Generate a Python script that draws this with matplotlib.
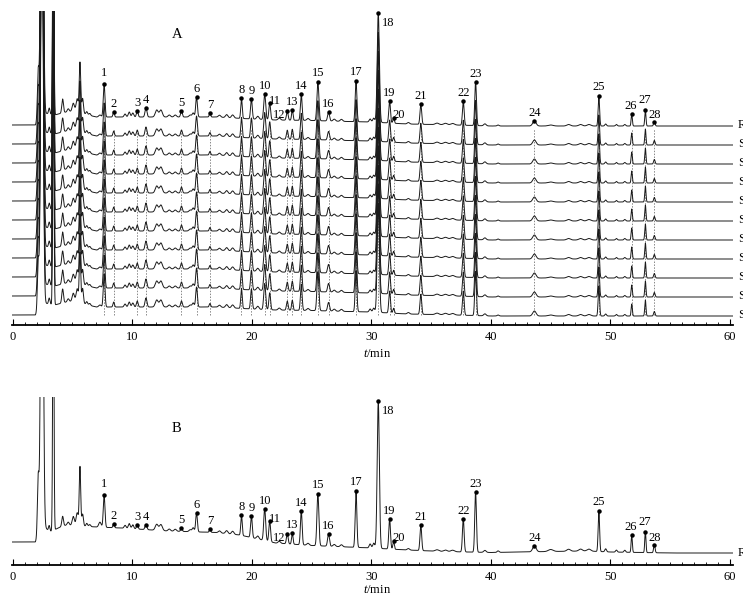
import numpy as np
import matplotlib
matplotlib.use('Agg')
import matplotlib.pyplot as plt

plt.rcParams['font.family'] = ['Liberation Serif', 'DejaVu Serif']
plt.rcParams['mathtext.fontset'] = 'custom'
plt.rcParams['mathtext.it'] = 'Liberation Serif:italic'
plt.rcParams['mathtext.rm'] = 'Liberation Serif'

# ---------------- data ----------------
PEAK_NO = [1, 2, 3, 4, 5, 6, 7, 8, 9, 10, 11, 12, 13, 14,
           15, 16, 17, 18, 19, 20, 21, 22, 23, 24, 25, 26, 27, 28]
PEAK_RT = [7.65, 8.45, 10.42, 11.15, 14.12, 15.38, 16.50, 19.14, 19.97, 21.08,
           21.50, 22.97, 23.39, 24.14, 25.53, 26.42, 28.72, 30.58, 31.53, 31.86,
           34.14, 37.69, 38.72, 43.64, 49.03, 51.78, 52.92, 53.67]
PEAK_WIDTH = [0.07, 0.06, 0.07, 0.08, 0.07, 0.07, 0.06, 0.06, 0.07, 0.08,
              0.07, 0.07, 0.06, 0.07, 0.08, 0.08, 0.07, 0.09, 0.07, 0.06,
              0.07, 0.07, 0.07, 0.14, 0.06, 0.05, 0.05, 0.06]
A_HEIGHT = [33, 5, 6, 9, 6, 20, 3.5, 20, 20, 26, 17, 9, 10, 26, 39, 8.5, 41, 109,
            22, 5, 20, 24, 44, 5, 30, 12, 16, 4.5]
B_HEIGHT = [32, 4, 4, 5, 3, 19, 3, 20, 22, 32, 21, 10, 11, 34, 52, 12, 56, 147,
            30, 8, 26, 33, 60, 6, 41, 17, 21, 8]

EARLY_RT = [2.14, 2.45, 3.06, 3.40, 4.18, 4.65, 5.07, 5.40, 5.63, 5.85]
EARLY_WIDTH = [0.07, 0.10, 0.06, 0.05, 0.07, 0.08, 0.09, 0.09, 0.06, 0.07]
A_EARLY_H = [50, 450, 6, 300, 14, 3, 8, 13, 50, 15]
B_EARLY_H = [60, 500, 6, 300, 10, 3, 9, 13, 59, 12]

MINOR_RT = [6.20, 6.45, 7.30, 9.40, 9.75, 10.05, 12.05, 12.40, 13.10, 13.60,
            14.85, 15.10, 17.30, 17.90, 18.40, 20.50, 22.30, 24.70, 26.90, 27.50,
            29.90, 30.20, 33.10, 35.50, 36.20, 36.80, 39.50, 40.60, 45.00, 46.50,
            47.50, 48.20, 49.60, 50.50, 51.20]
MINOR_WIDTH = [0.07, 0.07, 0.10, 0.08, 0.08, 0.08, 0.12, 0.12, 0.10, 0.10,
               0.10, 0.08, 0.10, 0.10, 0.10, 0.10, 0.10, 0.10, 0.10, 0.10,
               0.08, 0.08, 0.10, 0.15, 0.15, 0.15, 0.10, 0.08, 0.20, 0.15,
               0.15, 0.15, 0.07, 0.07, 0.07]
A_MINOR_H = [3, 2, 2, 3, 5, 4, 7, 7, 2, 2, 2, 4, 2, 3, 3, 3, 2, 2, 2, 2,
             3, 4, 1.5, 1.5, 1.5, 1.5, 2, 1, 1, 1.5, 1.5, 1.5, 2, 1.5, 1.5]
B_MINOR_H = [3, 2, 5, 3, 5, 4, 6, 6, 2, 2, 2, 4, 2, 3, 3, 3, 2, 2, 2, 2,
             4, 5, 1.5, 1.5, 1.5, 1.5, 2, 1.5, 2, 2, 2, 2, 3, 2, 2]

A_DRIFT_T = [0, 1.9, 2.6, 3.5, 4.5, 5.2, 6.3, 7.0, 8.0, 13.0, 17.0, 20.0, 22.0,
             25.0, 28.0, 30.0, 33.0, 37.0, 40.0, 60.3]
A_DRIFT = [0, 0, 12, 10, 13, 14, 10, 8, 8, 8, 8, 6, 5, 4.5, 3.5, 3, 1, 0, -1, -1]
B_DRIFT_T = [0, 1.9, 2.6, 3.1, 4.0, 4.5, 7.0, 9.0, 13.0, 17.0, 19.0, 20.5, 22.0,
             25.0, 28.0, 30.0, 33.0, 36.0, 40.0, 45.0, 48.0, 50.0, 55.0, 60.3]
B_DRIFT = [0, 0, 16, 10, 15, 17, 15, 14, 11, 9.5, 7, 3, -1, -3.5, -5, -6, -8,
           -9.5, -10.5, -9.5, -9, -10, -11, -11]

SAMPLES_A = ['R', 'S1', 'S2', 'S3', 'S4', 'S5', 'S6', 'S7', 'S8', 'S9', 'S10']
S_FACTOR = [1.00, 1.00, 1.00, 1.00, 1.00, 1.00, 1.00, 1.00, 1.00, 1.00, 1.00]
X_TICKS = [0, 10, 20, 30, 40, 50, 60]

# label offsets in pixels (dx, dy) relative to the apex
LABEL_OFF = {1: (0, 12), 11: (5, 3), 12: (-8, -3), 18: (10, -9), 20: (5, 4),
             15: (0, 10), 17: (0, 10), 23: (0, 9), 25: (0, 10), 26: (-1, 9),
             27: (-1, 11), 28: (0, 8)}

# ---------------- helpers ----------------
T = np.arange(-0.08, 60.25, 0.004)


def peaks(rts, hs, ws, scale=1.0):
    y = np.zeros_like(T)
    for r, h, w in zip(rts, hs, ws):
        y += scale * h * np.exp(-0.5 * ((T - r) / w) ** 2)
    return y


def profile(drift_t, drift, main_h, early_h, minor_h, scale=1.0):
    y = np.interp(T, drift_t, drift)
    y += peaks(PEAK_RT, main_h, PEAK_WIDTH, scale)
    y += peaks(EARLY_RT, early_h, EARLY_WIDTH)
    y += peaks(MINOR_RT, minor_h, MINOR_WIDTH)
    return y


def apex(y):
    out = []
    for r in PEAK_RT:
        m = (T > r - 0.06) & (T < r + 0.06)
        i = np.argmax(np.where(m, y, -1e9))
        out.append((T[i], y[i]))
    return out


def style_axis(ax, ymax):
    ax.set_xlim(-0.08, 60.25)
    ax.set_ylim(0, ymax)
    for s in ('left', 'right', 'top'):
        ax.spines[s].set_visible(False)
    ax.spines['bottom'].set_linewidth(1.3)
    ax.set_yticks([])
    ax.set_xticks(X_TICKS)
    ax.set_xticks(np.arange(0, 61, 1), minor=True)
    ax.tick_params(axis='x', which='major', direction='in', length=4, width=0.8,
                   labelsize=9, pad=4)
    ax.tick_params(axis='x', which='minor', direction='in', length=2.5, width=0.6)
    ax.patch.set_alpha(0)


def label_peaks(ax, pts):
    for n, (x, y) in zip(PEAK_NO, pts):
        ax.plot([x], [y], marker='o', ms=2.2, color='black', zorder=5)
        dx, dy = LABEL_OFF.get(n, (0, 9))
        ax.annotate(str(n), (x, y), xytext=(dx, dy - 4), textcoords='offset pixels',
                    ha='center', va='baseline', fontsize=9, annotation_clip=False)


W, H = 743, 597
fig = plt.figure(figsize=(W / 100, H / 100), dpi=100)

# ---------------- panel A ----------------
a_top, a_bot = 11, 325
axA = fig.add_axes([11.7 / W, 1 - a_bot / H, (733 - 11.7) / W, (a_bot - a_top) / H])
style_axis(axA, a_bot - a_top)
line_kw = dict(color='#1a1a1a', lw=0.7)
offsets = [200 - 19 * i for i in range(len(SAMPLES_A))]
R_A = None
for name, off, f in zip(SAMPLES_A, offsets, S_FACTOR):
    y = profile(A_DRIFT_T, A_DRIFT, A_HEIGHT, A_EARLY_H, A_MINOR_H, f) + off
    axA.plot(T, y, **line_kw, zorder=3)
    axA.text(60.65, off, name, fontsize=9, va='center', ha='left', clip_on=False)
    if R_A is None:
        R_A = y
for r in PEAK_RT:
    axA.plot([r, r], [offsets[-1], offsets[0] - 4], color='#888888', lw=0.7,
             ls=(0, (1.5, 1.5)), zorder=1)
label_peaks(axA, apex(R_A))
fig.text(176.7 / W, 1 - 35 / H, 'A', fontsize=10.5, ha='center', va='center')
fig.text(377 / W, 1 - 354 / H, r'$\it{t}$/min', fontsize=9, ha='center', va='center')

# ---------------- panel B ----------------
b_top, b_bot = 397, 565
axB = fig.add_axes([11.7 / W, 1 - b_bot / H, (733 - 11.7) / W, (b_bot - b_top) / H])
style_axis(axB, b_bot - b_top)
yb = profile(B_DRIFT_T, B_DRIFT, B_HEIGHT, B_EARLY_H, B_MINOR_H) + 23
axB.plot(T, yb, **line_kw, zorder=3)
axB.text(60.65, yb[-1], 'R', fontsize=9, va='center', ha='left', clip_on=False)
label_peaks(axB, apex(yb))
fig.text(176.7 / W, 1 - 428 / H, 'B', fontsize=10.5, ha='center', va='center')
fig.text(377 / W, 1 - 590 / H, r'$\it{t}$/min', fontsize=9, ha='center', va='center')

fig.savefig('out.png', dpi=100)
